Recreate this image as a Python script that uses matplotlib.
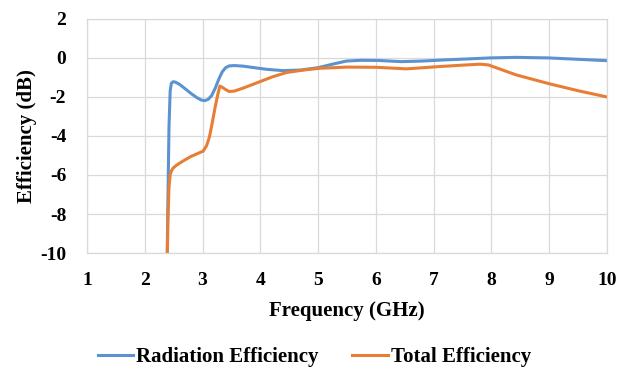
import numpy as np
import matplotlib.pyplot as plt

# Frequency (GHz) and efficiency (dB)
rad_freq = [2.38, 2.40, 2.42, 2.44, 2.46, 2.49, 2.53, 2.60, 2.70, 2.80, 2.90, 2.98, 3.04, 3.10, 3.16,
            3.22, 3.28, 3.34, 3.40, 3.46, 3.55, 3.70, 3.90, 4.10, 4.39, 4.70, 5.00, 5.25, 5.49,
            5.75, 6.05, 6.44, 6.80, 7.20, 7.60, 7.97, 8.43, 9.00, 9.50, 10.0]
rad_eff = [-12.0, -7.5, -3.5, -1.7, -1.30, -1.22, -1.24, -1.35, -1.58, -1.82, -2.03, -2.16, -2.19, -2.12, -1.92,
           -1.55, -1.10, -0.72, -0.50, -0.41, -0.39, -0.42, -0.50, -0.58, -0.65, -0.62, -0.50, -0.32, -0.16,
           -0.12, -0.13, -0.19, -0.16, -0.10, -0.05, 0.0, 0.03, 0.0, -0.07, -0.14]

tot_freq = [2.38, 2.40, 2.42, 2.44, 2.46, 2.49, 2.55, 2.61, 2.70, 2.80, 2.90, 3.01, 3.07, 3.12, 3.17,
            3.22, 3.27, 3.30, 3.34, 3.40, 3.46, 3.55, 3.70, 3.99, 4.20, 4.45, 4.75, 5.03, 5.50,
            6.01, 6.53, 7.11, 7.50, 7.80, 7.95, 8.10, 8.43, 9.01, 9.50, 10.0]
tot_eff = [-12.0, -8.5, -6.6, -6.0, -5.8, -5.65, -5.5, -5.38, -5.22, -5.05, -4.92, -4.78, -4.50, -4.05, -3.30,
           -2.50, -1.80, -1.44, -1.50, -1.62, -1.72, -1.70, -1.55, -1.22, -0.98, -0.75, -0.62, -0.53, -0.47,
           -0.48, -0.56, -0.44, -0.37, -0.32, -0.36, -0.52, -0.87, -1.33, -1.68, -2.0]

xticks = np.arange(1, 11)
yticks = np.arange(-10, 3, 2)

plt.rcParams['font.family'] = ['Liberation Serif', 'DejaVu Serif']
plt.rcParams['font.weight'] = 'bold'
plt.rcParams['axes.unicode_minus'] = False

fig = plt.figure(figsize=(6.19, 3.71), dpi=100)
ax = fig.add_axes([0.1405, 0.318, 0.840, 0.631])

ax.plot(rad_freq, rad_eff, color='#5B93D0', lw=2.2, label='Radiation Efficiency')
ax.plot(tot_freq, tot_eff, color='#E87D36', lw=2.2, label='Total Efficiency')

ax.set_xlim(1, 10)
ax.set_ylim(-10, 2)
ax.set_xticks(xticks)
ax.set_yticks(yticks)
ax.grid(True, color='#D9D9D9', lw=0.9)
ax.set_axisbelow(True)
for s in ax.spines.values():
    s.set_color('#D9D9D9')
    s.set_linewidth(0.9)
ax.tick_params(length=0, labelsize=14)
ax.tick_params(axis='x', pad=14)
ax.tick_params(axis='y', pad=15)
for lab in ax.get_xticklabels() + ax.get_yticklabels():
    lab.set_fontweight('bold')

ax.set_xlabel('Frequency (GHz)', fontsize=15, fontweight='bold', labelpad=8)
ax.set_ylabel('Efficiency (dB)', fontsize=15, fontweight='bold', labelpad=2)

fig.legend(loc='center', bbox_to_anchor=(0.508, 0.038), ncol=2, frameon=False,
           prop={'size': 15, 'weight': 'bold'}, handlelength=1.7, handletextpad=0.15,
           columnspacing=1.6)

fig.savefig('out.png', dpi=100)
